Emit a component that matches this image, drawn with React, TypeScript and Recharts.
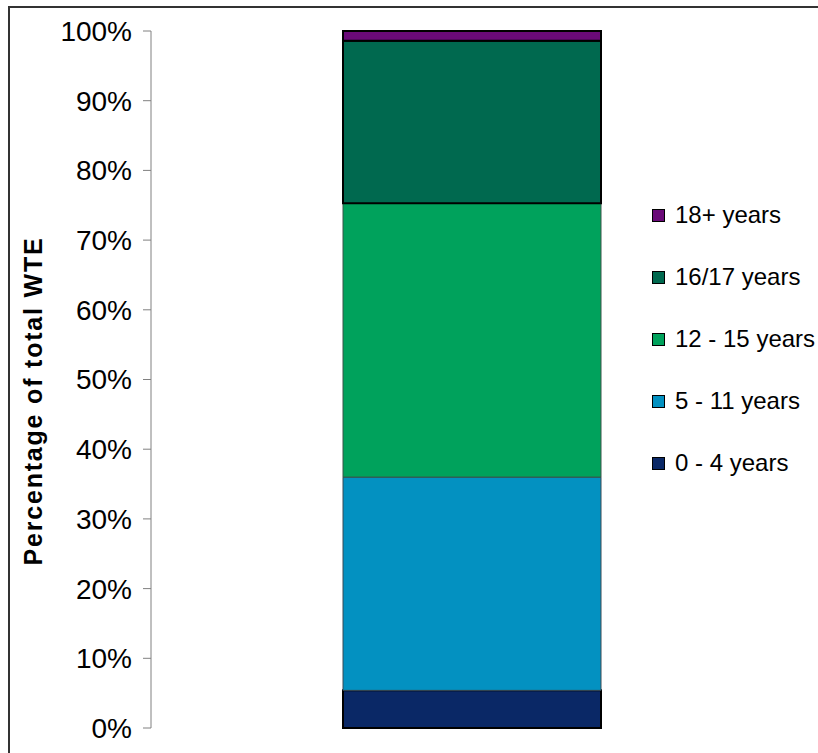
import { BarChart, Bar, XAxis, YAxis } from "recharts";

// share of total WTE by age band (one stacked column)
const categories = ["All"];
const age0to4 = [5.4];
const age5to11 = [30.6];
const age12to15 = [39.3];
const age16to17 = [23.3];
const age18plus = [1.4];
const yTicks = [0, 10, 20, 30, 40, 50, 60, 70, 80, 90, 100];

const seriesKeys = ["a0", "a5", "a12", "a16", "a18"];
const seriesNames = ["0 - 4 years", "5 - 11 years", "12 - 15 years", "16/17 years", "18+ years"];
const seriesColors = ["#0a2866", "#0391c1", "#00a25c", "#00694f", "#6a0a78"];
const seriesStrokes = ["#000", "#3a4a55", "#3a5548", "#000", "#000"];
const seriesStrokeW = [2, 1, 1, 2, 2];

const data = categories.map((c, i) => ({
  name: c,
  a0: age0to4[i],
  a5: age5to11[i],
  a12: age12to15[i],
  a16: age16to17[i],
  a18: age18plus[i],
}));

const FONT = '"Liberation Sans", Arial, sans-serif';

const YLabel = () => (
  <text
    x={0}
    y={0}
    transform="translate(42, 401) rotate(-90)"
    textAnchor="middle"
    fontFamily={FONT}
    fontSize={25}
    fontWeight="bold"
    letterSpacing={1.8}
    fill="#000"
  >
    Percentage of total WTE
  </text>
);

function LegendBox() {
  const idx = seriesNames.map((_, i) => i).reverse();
  return (
    <div
      style={{
        position: "absolute",
        left: 652,
        top: 184,
        fontFamily: FONT,
        fontSize: 24,
        color: "#000",
      }}
    >
      {idx.map((i) => (
        <div key={seriesNames[i]} style={{ display: "flex", alignItems: "center", height: 62 }}>
          <span
            style={{
              display: "inline-block",
              width: 11,
              height: 11,
              background: seriesColors[i],
              border: "1px solid #000",
              marginRight: 10,
            }}
          />
          <span>{seriesNames[i]}</span>
        </div>
      ))}
    </div>
  );
}

export default function App() {
  return (
    <div
      style={{
        position: "absolute",
        left: 0,
        top: 0,
        width: 818,
        height: 753,
        overflow: "hidden",
        background: "#fff",
      }}
    >
      <div
        style={{
          position: "absolute",
          left: 8,
          top: 6,
          width: 810,
          height: 747,
          borderTop: "2px solid #333",
          borderLeft: "2px solid #333",
          boxSizing: "border-box",
        }}
      />
      <BarChart
        width={818}
        height={753}
        data={data}
        margin={{ top: 31, right: 25, bottom: 25, left: 0 }}
        style={{ position: "absolute", left: 0, top: 0 }}
      >
        <XAxis dataKey="name" hide />
        <YAxis
          width={151}
          domain={[0, 100]}
          ticks={yTicks}
          tickFormatter={(v) => `${v}%`}
          tick={{ fontFamily: FONT, fontSize: 28, fill: "#000" }}
          tickSize={8}
          tickMargin={11}
          stroke="#808080"
          interval={0}
          label={<YLabel />}
        />
        {seriesKeys.map((k, i) => (
          <Bar
            key={k}
            dataKey={k}
            name={seriesNames[i]}
            stackId="s"
            fill={seriesColors[i]}
            stroke={seriesStrokes[i]}
            strokeWidth={seriesStrokeW[i]}
            barSize={258}
            isAnimationActive={false}
          />
        ))}
      </BarChart>
      <LegendBox />
    </div>
  );
}
